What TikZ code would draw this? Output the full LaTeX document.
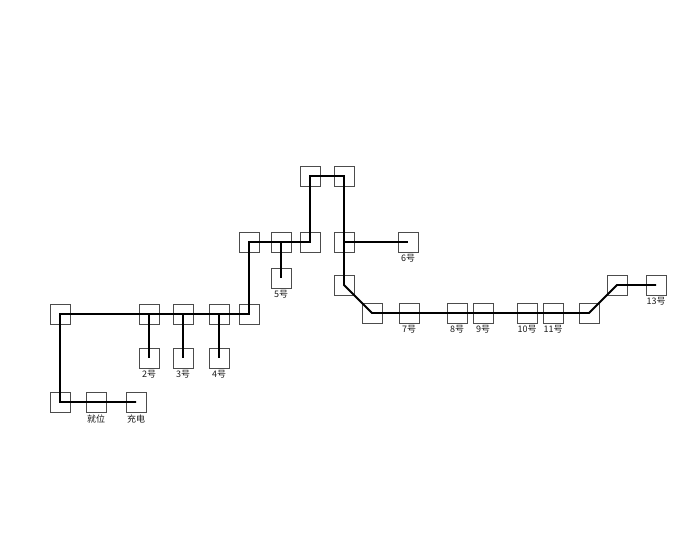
\documentclass[tikz,border=0pt]{standalone}
\usepackage{fontspec}
\newfontfamily\cjk{Noto Sans CJK SC}
\begin{document}
\begin{tikzpicture}[x=1pt,y=-1pt,
  box/.style={draw=black!70,line width=0.8pt,minimum width=20pt,minimum height=20pt,inner sep=0pt,outer sep=0pt},
  lbl/.style={font=\cjk\fontsize{9}{10}\selectfont,text=black!90,inner sep=0pt,anchor=north,yshift=-2.5pt},
  route/.style={line width=1.8pt,line join=miter}]
\useasboundingbox (0,0) rectangle (700,540);
% boxes
\node[box] (bL) at (60,402) {};
\node[box] (bJ) at (96,402) {};
\node[box] (bC) at (136,402) {};
\node[box] (bA) at (60,314) {};
\node[box] (b2u) at (149,314) {};
\node[box] (b3u) at (183,314) {};
\node[box] (b4u) at (219,314) {};
\node[box] (bR) at (249,314) {};
\node[box] (b2) at (149,358) {};
\node[box] (b3) at (183,358) {};
\node[box] (b4) at (219,358) {};
\node[box] (c1) at (249,242) {};
\node[box] (c2) at (281,242) {};
\node[box] (c3) at (310,242) {};
\node[box] (b5) at (281,278) {};
\node[box] (t1) at (310,176) {};
\node[box] (t2) at (344,176) {};
\node[box] (d1) at (344,242) {};
\node[box] (b6) at (408,242) {};
\node[box] (d2) at (344,285) {};
\node[box] (e1) at (372,313) {};
\node[box] (b7) at (409,313) {};
\node[box] (b8) at (457,313) {};
\node[box] (b9) at (483,313) {};
\node[box] (b10) at (527,313) {};
\node[box] (b11) at (553,313) {};
\node[box] (e2) at (589,313) {};
\node[box] (f1) at (617,285) {};
\node[box] (b13) at (656,285) {};
% labels
\node[lbl] (lJ) at (bJ.south) {就位};
\node[lbl] (lC) at (bC.south) {充电};
\node[lbl] (l2) at (b2.south) {2号};
\node[lbl] (l3) at (b3.south) {3号};
\node[lbl] (l4) at (b4.south) {4号};
\node[lbl] (l5) at (b5.south) {5号};
\node[lbl] (l6) at (b6.south) {6号};
\node[lbl] (l7) at (b7.south) {7号};
\node[lbl] (l8) at (b8.south) {8号};
\node[lbl] (l9) at (b9.south) {9号};
\node[lbl] (l10) at (b10.south) {10号};
\node[lbl] (l11) at (b11.south) {11号};
\node[lbl] (l13) at (b13.south) {13号};
% route
\draw[route] (bC.center) -- (bJ.center) -- (bL.center) -- (bA.center) -- (b2u.center) -- (b3u.center) -- (b4u.center) -- (bR.center)
  -- (c1.center) -- (c2.center) -- (c3.center) -- (t1.center) -- (t2.center) -- (d1.center) -- (d2.center)
  -- (e1.center) -- (b7.center) -- (b8.center) -- (b9.center) -- (b10.center) -- (b11.center) -- (e2.center)
  -- (f1.center) -- (b13.center);
\draw[route] (b2u.center) -- (b2.center);
\draw[route] (b3u.center) -- (b3.center);
\draw[route] (b4u.center) -- (b4.center);
\draw[route] (c2.center) -- (b5.center);
\draw[route] (d1.center) -- (b6.center);
\end{tikzpicture}
\end{document}
